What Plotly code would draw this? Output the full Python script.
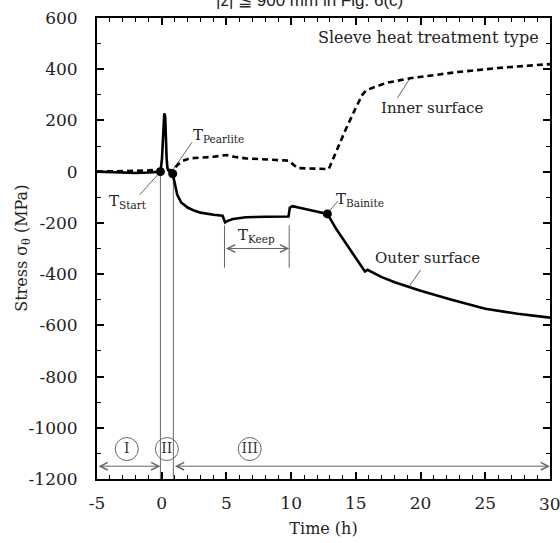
import plotly.graph_objects as go

# ---- data ----
outer_x = [-5, -4, -3, -2, -1, -0.5, -0.1, 0.02, 0.12, 0.2, 0.27, 0.32, 0.38, 0.45, 0.6, 0.85, 1.0, 1.2, 1.5,
           2.0, 2.5, 3.0, 4.0, 4.7, 4.9, 5.1, 5.5, 6.5, 8, 9.8, 9.9, 10.1, 11, 12, 12.8, 13.5, 14.5,
           15.2, 15.7, 15.9, 17, 18, 20, 22.4, 25, 27.5, 30]
outer_y = [0, -2, -3, -5, -3, -2, 0, 50, 140, 228, 215, 130, 50, 12, 0, -8, -50, -90, -120,
           -140, -152, -160, -168, -172, -198, -192, -185, -178, -176, -175, -140, -135, -145, -155, -165, -225, -300,
           -350, -390, -383, -412, -432, -465, -500, -535, -555, -570]

inner_x = [-5, -3, -1, -0.1, 0.3, 0.85, 1.2, 1.6, 2.2, 3, 4, 5, 5.6, 6.5, 8, 9.8, 10.5, 12.9,
           13.5, 14.2, 15, 15.5, 15.8, 17.3, 19.3, 22.9, 26, 30]
inner_y = [0, 2, 5, 8, 8, 5, 25, 42, 52, 55, 58, 65, 58, 52, 48, 43, 14, 10,
           80, 163, 250, 300, 318, 346, 366, 389, 405, 420]

point_x = [-0.1, 0.85, 12.8]
point_y = [0, -8, -165]

boundary_x = [-0.1, 0.9]
boundary_top = -12
keep_x = [4.85, 9.85]
keep_y = [-210, -375]
arrow_y = -1150
keep_arrow_y = -300

region_labels = ["I", "II", "III"]
region_x = [-2.7, 0.4, 6.8]
region_y = [-1083, -1083, -1083]

x_ticks = [-5, 0, 5, 10, 15, 20, 25, 30]
y_ticks = [600, 400, 200, 0, -200, -400, -600, -800, -1000, -1200]

SERIF = "DejaVu Serif"
GRAY = "#666666"
TXT = "#222222"

fig = go.Figure()

# gray helper lines
for bx in boundary_x:
    fig.add_trace(go.Scatter(x=[bx, bx], y=[boundary_top, -1200], mode="lines",
                             line=dict(color=GRAY, width=1), hoverinfo="skip", showlegend=False))
for kx in keep_x:
    fig.add_trace(go.Scatter(x=[kx, kx], y=keep_y, mode="lines",
                             line=dict(color=GRAY, width=1), hoverinfo="skip", showlegend=False))

# leader lines
leaders = [
    ([-0.15, -1.7], [-3, -90]),
    ([0.9, 2.35], [10, 115]),
    ([12.85, 13.6], [-160, -115]),
    ([18.2, 19.2], [287, 366]),
    ([20.0, 19.1], [-384, -450]),
]
for lx, ly in leaders:
    fig.add_trace(go.Scatter(x=lx, y=ly, mode="lines", line=dict(color=GRAY, width=1),
                             hoverinfo="skip", showlegend=False))

fig.add_trace(go.Scatter(x=inner_x, y=inner_y, mode="lines", name="Inner surface",
                         line=dict(color="black", width=2.6, dash="6px,4px"), showlegend=False))
fig.add_trace(go.Scatter(x=outer_x, y=outer_y, mode="lines", name="Outer surface",
                         line=dict(color="black", width=2.6), showlegend=False))
fig.add_trace(go.Scatter(x=point_x, y=point_y, mode="markers",
                         marker=dict(color="black", size=9), showlegend=False))

# region circles
fig.add_trace(go.Scatter(x=region_x, y=region_y, mode="markers+text", text=region_labels,
                         textposition="middle center",
                         textfont=dict(family=SERIF, size=14, color="#333"),
                         marker=dict(symbol="circle-open", size=23, color=GRAY, line=dict(width=1)),
                         showlegend=False, cliponaxis=False))

annotations = []
# double arrows
def darrow(x0, x1, y):
    annotations.append(dict(x=x1, y=y, ax=x0, ay=y, xref="x", yref="y", axref="x", ayref="y",
                            text="", showarrow=True, arrowhead=5, startarrowhead=5, arrowside="end+start",
                            arrowsize=1.5, startarrowsize=1.5, arrowwidth=1, arrowcolor=GRAY,
                            standoff=0, startstandoff=0))

darrow(-5, -0.1, arrow_y)
darrow(0.9, 30, arrow_y)
darrow(keep_x[0], keep_x[1], keep_arrow_y)

def label(x, y, text, size=15, xanchor="center"):
    annotations.append(dict(x=x, y=y, xref="x", yref="y", text=text, showarrow=False,
                            xanchor=xanchor, font=dict(family=SERIF, size=size, color=TXT)))

label(-2.6, -118, "T<sub>Start</sub>")
label(4.4, 140, "T<sub>Pearlite</sub>")
label(15.3, -110, "T<sub>Bainite</sub>")
label(7.3, -250, "T<sub>Keep</sub>")
label(20.9, 249, "Inner surface")
label(20.5, -337, "Outer surface")
label(29.3, 525, "Sleeve heat treatment type", size=16, xanchor="right")

# clipped last x tick label (as in the reference)
annotations.append(dict(x=30, y=0, xref="x", yref="paper", xanchor="center", yanchor="top", yshift=-13,
                        text="30", showarrow=False, font=dict(family=SERIF, size=17, color=TXT)))

# y axis title
annotations.append(dict(x=(22 - 97) / 455, y=0.5, xref="paper", yref="paper", textangle=-90,
                        xanchor="center", yanchor="middle",
                        text="Stress σ<sub>θ</sub> (MPa)", showarrow=False,
                        font=dict(family=SERIF, size=16, color=TXT)))

# top title (cut by the top edge in the reference)
annotations.append(dict(x=0.47, y=1 + 18 / 461, xref="paper", yref="paper", yanchor="middle",
                        text="|z| ≦ 900 mm in Fig. 6(c)",
                        showarrow=False, font=dict(family="Liberation Sans", size=17, color=TXT)))

fig.update_layout(
    width=560, height=543,
    margin=dict(l=97, r=8, t=18, b=64),
    plot_bgcolor="white", paper_bgcolor="white",
    annotations=annotations,
    xaxis=dict(range=[-5, 30], tickvals=x_ticks[:-1], ticktext=[str(v) for v in x_ticks[:-1]],
               ticks="inside", ticklen=7, tickwidth=1.5, tickcolor="black",
               minor=dict(dtick=1, ticks="inside", ticklen=4, tickwidth=1, tickcolor="black"),
               showline=True, linecolor="black", linewidth=2, mirror="ticks",
               showgrid=False, zeroline=False, ticklabelstandoff=8,
               tickfont=dict(family=SERIF, size=17, color=TXT),
               title=dict(text="Time (h)", font=dict(family=SERIF, size=16, color=TXT), standoff=10)),
    yaxis=dict(range=[-1200, 600], tickvals=y_ticks, ticktext=[str(v) for v in y_ticks],
               ticks="inside", ticklen=7, tickwidth=1.5, tickcolor="black",
               minor=dict(dtick=100, ticks="inside", ticklen=4, tickwidth=1, tickcolor="black"),
               showline=True, linecolor="black", linewidth=2, mirror="ticks",
               showgrid=False, zeroline=False, ticklabelstandoff=14,
               tickfont=dict(family=SERIF, size=17, color=TXT)),
)

fig.write_html("out.html")
